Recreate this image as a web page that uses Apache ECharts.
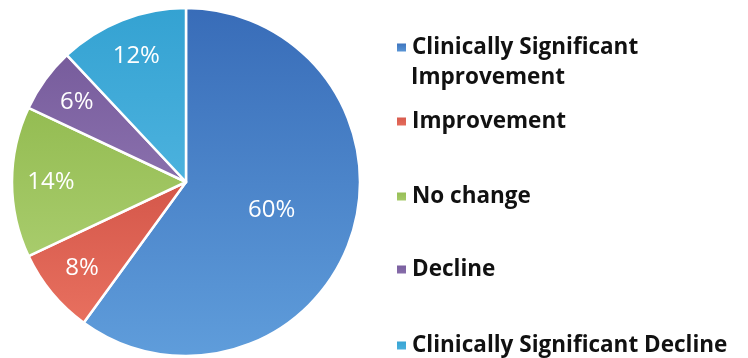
<!DOCTYPE html>
<html>
<head>
<meta charset="utf-8">
<script src="https://cdn.jsdelivr.net/npm/echarts@6/dist/echarts.min.js"></script>
<style>html,body{margin:0;padding:0;background:#fff;}#c{width:748px;height:358px;}</style>
</head>
<body>
<div id="c"></div>
<script>
const categories = ['Clinically Significant Improvement', 'Improvement', 'No change', 'Decline', 'Clinically Significant Decline'];
const legendLabels = ['Clinically Significant', 'Improvement', 'No change', 'Decline', 'Clinically Significant Decline'];
const wrappedLine = 'Improvement';
const values = [60, 8, 14, 6, 12];
const colorsTop = ['#386cb8', '#d4574a', '#94bc52', '#775c9c', '#34a2d2'];
const colorsBottom = ['#5f9ddb', '#e8705f', '#a8cc6c', '#8a70ad', '#4cb2de'];
const legendTops = [31, 105, 180, 253, 329];

const chart = echarts.init(document.getElementById('c'), null, {renderer: 'canvas'});
const grad = i => new echarts.graphic.LinearGradient(0, 0, 0, 1, [
  {offset: 0, color: colorsTop[i]}, {offset: 1, color: colorsBottom[i]}]);
const data = categories.map((n, i) => ({name: n, value: values[i], itemStyle: {color: grad(i)}}));
const overlayData = categories.map((n, i) => ({name: n, value: values[i]}));

const legendFont = '"Open Sans", sans-serif';
const legendText = {fontFamily: legendFont, fontWeight: 'bold', fontSize: 22.5, color: '#111'};
const legends = categories.map((n, i) => ({
  data: [n],
  left: 390,
  top: legendTops[i],
  icon: 'rect',
  itemWidth: 11,
  itemHeight: 10,
  itemGap: 0,
  selectedMode: false,
  formatter: name => legendLabels[categories.indexOf(name)],
  textStyle: legendText
}));

chart.setOption({
  animation: false,
  color: colorsTop,
  legend: legends,
  graphic: [{
    type: 'text',
    x: 411,
    y: 66,
    style: {text: wrappedLine, fontFamily: legendFont, fontWeight: 'bold', fontSize: 22.5, fill: '#111'}
  }],
  series: [
    {
      type: 'pie',
      center: [186, 182],
      radius: [0, 174],
      startAngle: 90,
      clockwise: true,
      data: data,
      itemStyle: {borderColor: '#fff', borderWidth: 2.5},
      label: {
        position: 'inside',
        formatter: p => p.dataIndex === 0 ? p.value + '%' : '',
        color: '#fff', fontSize: 24, fontFamily: '"Open Sans", sans-serif'
      },
      labelLine: {show: false},
      emphasis: {disabled: true}
    },
    {
      type: 'pie',
      center: [186, 182],
      radius: [90, 174],
      startAngle: 90,
      clockwise: true,
      silent: true,
      data: overlayData,
      itemStyle: {color: 'rgba(0,0,0,0)', borderWidth: 0},
      label: {
        position: 'inside',
        formatter: p => p.dataIndex === 0 ? '' : p.value + '%',
        color: '#fff', fontSize: 24, fontFamily: '"Open Sans", sans-serif'
      },
      labelLine: {show: false},
      emphasis: {disabled: true}
    }
  ]
});
</script>
</body>
</html>
